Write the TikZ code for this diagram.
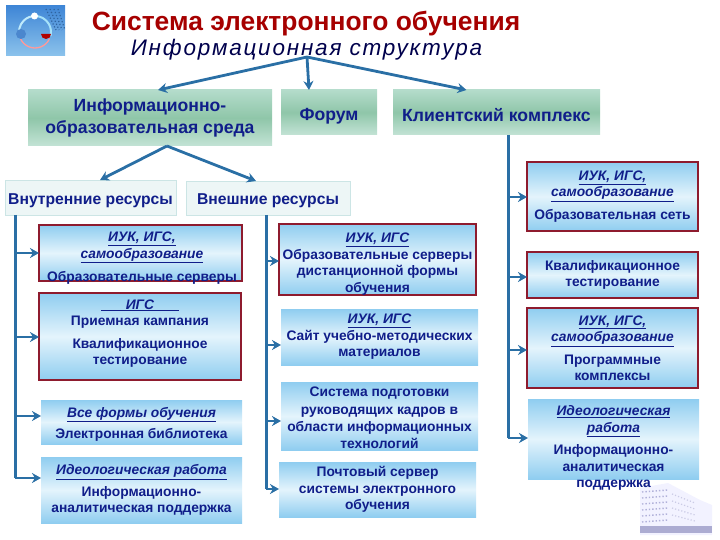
\documentclass[tikz,border=0pt]{standalone}
\usepackage{fontspec}
\setmainfont{Liberation Sans}
\usetikzlibrary{arrows.meta}
\definecolor{navy}{HTML}{101E8A}
\definecolor{linkblue}{HTML}{2A6FA5}
\definecolor{frame}{HTML}{8E1B2E}
\definecolor{skyedge}{HTML}{8FCDF0}
\definecolor{skymid}{HTML}{E4F4FC}
\definecolor{greenedge}{HTML}{B4DCCB}
\definecolor{greenmid}{HTML}{8FC6A9}
\definecolor{logotop}{HTML}{3F86D6}
\definecolor{logobot}{HTML}{8CC3EC}
\tikzset{
  link/.style={draw=linkblue, line width=2.8pt, -{Stealth[length=9pt,width=10pt]}},
  trunk/.style={draw=linkblue, line width=3pt},
  bluebox/.style={inner sep=0pt, outer sep=0pt, top color=skyedge, bottom color=skyedge, middle color=skymid,
    align=center, text=navy, font=\fontsize{13.8}{16.5}\selectfont\bfseries},
  redbox/.style={bluebox, draw=frame, line width=2.2pt},
  greenbox/.style={inner sep=0pt, outer sep=0pt, top color=greenedge, bottom color=greenedge!80!white, middle color=greenmid,
    align=center, text=navy, font=\fontsize{17.6}{21.5}\selectfont\bfseries, execute at begin node=\rule{0pt}{19pt}},
  palebox/.style={inner sep=0pt, outer sep=0pt, fill=teal!7!white, draw=teal!20!white, line width=0.8pt,
    align=center, text=navy, font=\fontsize{15.7}{18}\selectfont\bfseries, execute at begin node=\rule{0pt}{16.5pt}},
  boxtext/.style={inner sep=0pt, align=center, text=navy, font=\fontsize{13.8}{16.5}\selectfont\bfseries},
}
\newcommand{\headline}[1]{{\itshape\underline{#1}}}
\begin{document}
\begin{tikzpicture}[x=1pt,y=-1pt]
\useasboundingbox (0,0) rectangle (720,540);
% logo
\shade[top color=logotop, bottom color=logobot] (6,6) rectangle (65,56);
\foreach \i in {0,...,3} \draw[logotop!75!black, line width=1.2pt, dotted] ({46+\i*4},9) -- ({56+\i*3},30);
\draw[white!75!cyan, line width=2pt] (35,32) ++(165:16) arc (165:270:16);
\draw[white!65!cyan, line width=2pt] (35,32) ++(270:16) arc (270:375:16);
\draw[red!40!white, line width=1.3pt] (35,32) ++(25:16) arc (25:155:16);
\fill[white] (34.5,16) circle (3.5);
\fill[red!70!black] (41,34) arc (180:0:5) -- cycle;
\fill[cyan!50!blue!75!white] (16,34) arc (180:0:5) -- cycle;
\fill[cyan!50!blue!75!white] (16,34) arc (180:360:5) -- cycle;
% building
\fill[blue!5!white] (640,488) -- (668,483) -- (700,500) -- (712,505) -- (712,535) -- (640,535) -- cycle;
\foreach \i in {0,...,5} \draw[blue!35!gray!45!white, line width=1.4pt, dotted] (642,{492+\i*6}) -- (668,{490+\i*6});
\foreach \i in {0,...,3} \draw[blue!35!gray!30!white, line width=1.2pt, dotted] (672,{494+\i*7}) -- (695,{503+\i*6});
\fill[blue!30!gray!50!white] (640,526) rectangle (712,533);
% title
\node[text=red!65!black, font=\fontsize{26.4}{30}\selectfont\bfseries] (title) at (306,24) {Система электронного обучения};
\node[text=blue!30!black, font=\fontsize{22.5}{26}\selectfont\itshape\addfontfeature{LetterSpace=8}] (subtitle) at (306.5,50) {Информационная структура};
\coordinate (top) at (307,57);
% first row
\node[greenbox, minimum width=244pt, minimum height=56pt] (ios) at (150,118) {Информационно-\\образовательная среда};
\node[greenbox, minimum width=96pt, minimum height=45pt] (forum) at (329,112.5) {Форум};
\node[greenbox, minimum width=207pt, minimum height=45pt] (client) at (496.5,112.5) {Клиентский комплекс};
\draw[link] (top) -- ([xshift=8pt]ios.north);
\draw[link] (top) -- ([xshift=-20pt]forum.north);
\draw[link] (top) -- ([xshift=-30pt]client.north);
% second row
\node[palebox, minimum width=171pt, minimum height=35pt] (inner) at (90.5,197.5) {Внутренние ресурсы};
\node[palebox, minimum width=164pt, minimum height=34pt] (outer) at (268,198) {Внешние ресурсы};
\coordinate (iosb) at ([xshift=17pt]ios.south);
\draw[link] (iosb) -- ([xshift=9.5pt]inner.north);
\draw[link] (iosb) -- ([xshift=-12pt]outer.north);
% left column
\node[redbox, minimum width=203pt, minimum height=56pt] (lbox1) at (140.5,253) {};
\node[boxtext] (lbox1txt) at (142,258) {\headline{ИУК, ИГС,}\\\headline{самообразование}\\[6.5pt]Образовательные серверы};
\node[redbox, minimum width=202pt, minimum height=87pt] (lbox2) at (140,336.5) {\headline{\hspace{1.8em}ИГС\hspace{1.8em}}\\Приемная кампания\\[6pt]Квалификационное\\тестирование\\[-7.5pt]};
\node[bluebox, minimum width=201pt, minimum height=44pt] (lbox3) at (141.5,422) {\rule{0pt}{15pt}\headline{Все формы обучения}\\[5pt]Электронная библиотека};
\node[bluebox, minimum width=201pt, minimum height=66pt] (lbox4) at (141.5,490) {\headline{Идеологическая работа}\\[5pt]Информационно-\\аналитическая поддержка};
\coordinate (lt1) at (15,253);
\coordinate (lt2) at (15,337);
\coordinate (lt3) at (15,416);
\coordinate (lt4) at (15,478);
\draw[trunk] (inner.south -| lt4) -- (lt4);
\draw[link] (lt1) -- (lt1 -| lbox1.west);
\draw[link] (lt2) -- (lt2 -| lbox2.west);
\draw[link] (lt3) -- (lt3 -| lbox3.west);
\draw[link] (lt4) -- (lt4 -| lbox4.west);
% middle column
\node[redbox, minimum width=197pt, minimum height=69pt] (mbox1) at (377.5,259.5) {\rule{0pt}{19pt}\headline{ИУК, ИГС}\\Образовательные серверы\\дистанционной формы\\обучения};
\node[bluebox, minimum width=197pt, minimum height=56pt] (mbox2) at (379.5,337) {\headline{ИУК, ИГС}\\Сайт учебно-методических\\материалов};
\node[bluebox, minimum width=197pt, minimum height=68pt] (mbox3) at (379.5,416) {\rule{0pt}{14pt}Система подготовки\\[0.8pt]руководящих кадров в\\[0.8pt]области информационных\\[0.8pt]технологий};
\node[bluebox, minimum width=197pt, minimum height=55pt] (mbox4) at (377.5,489.5) {Почтовый сервер\\системы электронного\\обучения};
\coordinate (mt1) at (266,261);
\coordinate (mt2) at (266,345);
\coordinate (mt3) at (266,421);
\coordinate (mt4) at (266,489);
\draw[trunk] (outer.south -| mt4) -- (mt4);
\draw[link] (mt1) -- (mt1 -| mbox1.west);
\draw[link] (mt2) -- (mt2 -| mbox2.west);
\draw[link] (mt3) -- (mt3 -| mbox3.west);
\draw[link] (mt4) -- (mt4 -| mbox4.west);
% right column
\node[redbox, minimum width=171pt, minimum height=69pt] (rbox1) at (612.5,196.5) {\headline{ИУК, ИГС,}\\\headline{самообразование}\\[6pt]Образовательная сеть};
\node[redbox, minimum width=171pt, minimum height=46pt] (rbox2) at (612.5,275) {Квалификационное\\тестирование};
\node[redbox, minimum width=171pt, minimum height=80pt] (rbox3) at (612.5,348) {\headline{ИУК, ИГС,}\\\headline{самообразование}\\[6pt]Программные\\комплексы};
\node[bluebox, minimum width=171pt, minimum height=80pt] (rbox4) at (613.5,439) {};
\node[boxtext] (rbox4txt) at (613.5,448) {\headline{Идеологическая}\\\headline{работа}\\[6pt]Информационно-\\аналитическая\\поддержка};
\coordinate (rt1) at (508,197);
\coordinate (rt2) at (508,277);
\coordinate (rt3) at (508,350);
\coordinate (rt4) at (508,438);
\draw[trunk] (client.south -| rt4) -- (rt4);
\draw[link] (rt1) -- (rt1 -| rbox1.west);
\draw[link] (rt2) -- (rt2 -| rbox2.west);
\draw[link] (rt3) -- (rt3 -| rbox3.west);
\draw[link] (rt4) -- (rt4 -| rbox4.west);
\end{tikzpicture}
\end{document}
